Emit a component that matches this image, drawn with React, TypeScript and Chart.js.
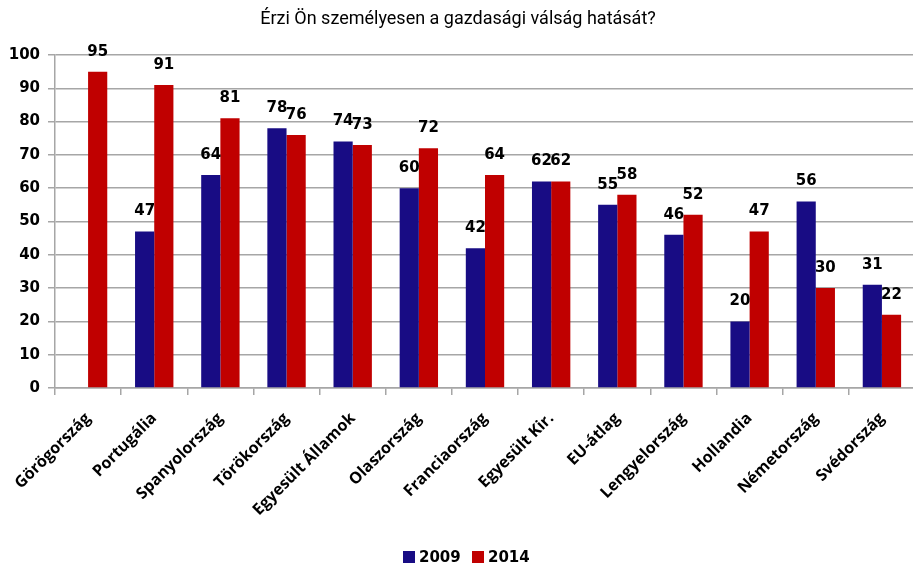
import React, { useEffect, useRef } from "react";
import { Chart, registerables } from "chart.js";

Chart.register(...registerables);

const categories = [
  "Görögország",
  "Portugália",
  "Spanyolország",
  "Törökország",
  "Egyesült Államok",
  "Olaszország",
  "Franciaország",
  "Egyesült Kir.",
  "EU-átlag",
  "Lengyelország",
  "Hollandia",
  "Németország",
  "Svédország",
];
const values2009: (number | null)[] = [null, 47, 64, 78, 74, 60, 42, 62, 55, 46, 20, 56, 31];
const values2014: (number | null)[] = [95, 91, 81, 76, 73, 72, 64, 62, 58, 52, 47, 30, 22];
const yTicks = [0, 10, 20, 30, 40, 50, 60, 70, 80, 90, 100];
const titleText = "Érzi Ön személyesen a gazdasági válság hatását?";
const seriesNames = ["2009", "2014"];

const BLUE = "#180c84";
const RED = "#c00000";
const GRID = "#a6a6a6";

const overlayPlugin = {
  id: "overlay",
  afterDraw(chart: any) {
    const ctx = chart.ctx as CanvasRenderingContext2D;
    ctx.save();
    // title
    ctx.fillStyle = "#000";
    ctx.font = '18px "Roboto", sans-serif';
    ctx.textAlign = "center";
    ctx.textBaseline = "middle";
    ctx.fillText(titleText, 458, 19);

    // data labels
    ctx.font = 'bold 15px "DejaVu Sans", sans-serif';
    chart.data.datasets.forEach((ds: any, di: number) => {
      const meta = chart.getDatasetMeta(di);
      meta.data.forEach((bar: any, i: number) => {
        const v = ds.data[i];
        if (v === null || v === undefined) return;
        ctx.fillText(String(v), bar.x, bar.y - 20);
      });
    });

    // legend
    const colors = [BLUE, RED];
    const xs = [403, 472];
    ctx.textAlign = "left";
    ctx.font = 'bold 15px "DejaVu Sans", sans-serif';
    seriesNames.forEach((name, i) => {
      ctx.fillStyle = colors[i];
      ctx.fillRect(xs[i], 551, 12, 12);
      ctx.fillStyle = "#000";
      ctx.fillText(name, xs[i] + 16, 558);
    });
    ctx.restore();
  },
};

export default function App() {
  const ref = useRef<HTMLCanvasElement | null>(null);
  useEffect(() => {
    document.body.style.margin = "0";
    document.body.style.overflow = "hidden";
    const chart = new Chart(ref.current as HTMLCanvasElement, {
      type: "bar",
      data: {
        labels: categories,
        datasets: [
          {
            label: seriesNames[0],
            data: values2009,
            backgroundColor: BLUE,
            borderWidth: 0,
          },
          {
            label: seriesNames[1],
            data: values2014,
            backgroundColor: RED,
            borderWidth: 0,
          },
        ],
      },
      options: {
        animation: false,
        responsive: false,
        maintainAspectRatio: false,
        layout: { padding: { top: 55, left: 0, right: 3, bottom: 0 } },
        datasets: { bar: { categoryPercentage: 0.58, barPercentage: 1 } },
        plugins: {
          legend: { display: false },
          title: { display: false },
          tooltip: { enabled: false },
        },
        scales: {
          x: {
            grid: {
              offset: true,
              drawOnChartArea: false,
              drawTicks: true,
              tickLength: 7,
              color: GRID,
              lineWidth: 1.5,
            },
            border: { color: GRID, width: 1.5 },
            ticks: {
              color: "#000",
              font: { family: "'Open Sans', sans-serif", weight: "bold", size: 16 },
              minRotation: 45,
              maxRotation: 45,
              autoSkip: false,
              padding: 14,
            },
            afterFit(scale: any) {
              scale.height = 180;
            },
          },
          y: {
            min: 0,
            max: 100,
            afterBuildTicks(scale: any) {
              scale.ticks = yTicks.map((v) => ({ value: v }));
            },
            grid: {
              color: GRID,
              lineWidth: 1.5,
              drawTicks: true,
              tickLength: 7,
            },
            border: { color: GRID, width: 1.5 },
            ticks: {
              color: "#000",
              font: { family: "'DejaVu Sans', sans-serif", weight: "bold", size: 15 },
              padding: 8,
            },
            afterFit(scale: any) {
              scale.width = 55;
            },
          },
        },
      },
      plugins: [overlayPlugin],
    });
    return () => chart.destroy();
  }, []);
  return (
    <div style={{ width: 913, height: 568, overflow: "hidden" }}>
      <canvas ref={ref} width={918} height={568} style={{ display: "block" }} />
    </div>
  );
}
